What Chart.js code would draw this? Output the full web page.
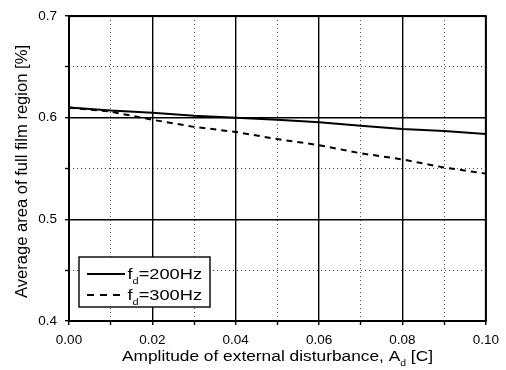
<!DOCTYPE html>
<html>
<head>
<meta charset="utf-8">
<script src="https://cdn.jsdelivr.net/npm/chart.js@4.4.1/dist/chart.umd.min.js"></script>
<style>
  html, body { margin: 0; padding: 0; background: #fff; }
  #wrap { width: 506px; height: 370px; }
</style>
</head>
<body>
<div id="wrap"><canvas id="filmChart" width="506" height="370"></canvas></div>
<script>
// values
const amplitude = [0.00, 0.01, 0.02, 0.03, 0.04, 0.05, 0.06, 0.07, 0.08, 0.09, 0.10];
const area200Hz = [0.610, 0.607, 0.605, 0.602, 0.600, 0.598, 0.5955, 0.592, 0.589, 0.587, 0.584];
const area300Hz = [0.610, 0.606, 0.598, 0.591, 0.586, 0.579, 0.573, 0.565, 0.559, 0.551, 0.545];
const seriesLabels = ['200Hz', '300Hz'];
const xTickLabels = ['0.00', '0.02', '0.04', '0.06', '0.08', '0.10'];
const yTickLabels = ['0.4', '0.5', '0.6', '0.7'];

const FONT = "'Liberation Sans', Arial, Helvetica, sans-serif";

function labelFor(list, v) {
  const hit = list.find(l => Math.abs(parseFloat(l) - v) < 1e-6);
  return hit || '';
}
function isMajor(list, ctx) {
  if (!ctx || !ctx.tick) return true;
  return labelFor(list, ctx.tick.value) !== '';
}

// text with a subscript, stretched to the width seen in the figure
function drawRich(ctx, parts, size, targetWidth) {
  const subSize = size * 0.6;
  let w = 0;
  parts.forEach(p => {
    ctx.font = (p.sub ? subSize : size) + 'px ' + FONT;
    w += ctx.measureText(p.t).width;
  });
  const s = targetWidth / w;
  ctx.save();
  ctx.scale(s, 1);
  let x = 0;
  parts.forEach(p => {
    ctx.font = (p.sub ? subSize : size) + 'px ' + FONT;
    ctx.fillText(p.t, x, p.sub ? size * 0.3 : 0);
    x += ctx.measureText(p.t).width;
  });
  ctx.restore();
}

const extras = {
  id: 'extras',
  afterDraw(chart) {
    const ctx = chart.ctx;
    const a = chart.chartArea;
    ctx.save();
    ctx.fillStyle = '#000';
    ctx.textBaseline = 'alphabetic';
    ctx.textAlign = 'left';

    // frame
    ctx.strokeStyle = '#000';
    ctx.lineWidth = 2;
    ctx.strokeRect(a.left, a.top, a.right - a.left, a.bottom - a.top);

    // x title
    ctx.save();
    ctx.translate(122, 361);
    drawRich(ctx, [{t: 'Amplitude of external disturbance, A'}, {t: 'd', sub: true}, {t: ' [C]'}], 15.5, 311);
    ctx.restore();

    // y title
    ctx.save();
    ctx.translate(27, 298);
    ctx.rotate(-Math.PI / 2);
    drawRich(ctx, [{t: 'Average area of full film region [%]'}], 16, 253);
    ctx.restore();

    // legend
    const lx = 79, ly = 257, lw = 131, lh = 50;
    ctx.fillStyle = '#fff';
    ctx.fillRect(lx, ly, lw, lh);
    ctx.strokeStyle = '#000';
    ctx.lineWidth = 1.4;
    ctx.strokeRect(lx, ly, lw, lh);
    const rows = [274, 295];
    chart.data.datasets.forEach((ds, i) => {
      ctx.save();
      ctx.strokeStyle = ds.borderColor;
      ctx.lineWidth = ds.borderWidth;
      ctx.setLineDash(i === 0 ? [] : [7, 6]);
      ctx.beginPath();
      ctx.moveTo(87, rows[i]);
      ctx.lineTo(i === 0 ? 125 : 120, rows[i]);
      ctx.stroke();
      ctx.restore();
      ctx.save();
      ctx.fillStyle = '#000';
      ctx.translate(127.5, rows[i] + 5);
      drawRich(ctx, [{t: 'f'}, {t: 'd', sub: true}, {t: '=' + seriesLabels[i]}], 15.5, 74.5);
      ctx.restore();
    });
    ctx.restore();
  }
};

const ctxFilm = document.getElementById('filmChart').getContext('2d');

const filmChart = new Chart(ctxFilm, {
  type: 'line',
  data: {
    datasets: [{
      label: seriesLabels[0],
      data: amplitude.map((x, i) => ({x: x, y: area200Hz[i]})),
      borderColor: '#000',
      borderWidth: 2,
      pointRadius: 0,
      tension: 0
    }, {
      label: seriesLabels[1],
      data: amplitude.map((x, i) => ({x: x, y: area300Hz[i]})),
      borderColor: '#000',
      borderWidth: 2,
      borderDash: [6, 5],
      pointRadius: 0,
      tension: 0
    }]
  },
  options: {
    responsive: false,
    devicePixelRatio: 1,
    animation: false,
    layout: { padding: { left: 0, top: 14, right: 17, bottom: 0 } },
    plugins: {
      legend: { display: false },
      tooltip: { enabled: false }
    },
    scales: {
      x: {
        type: 'linear',
        min: 0,
        max: 0.1,
        afterFit: (scale) => { scale.height = 49; },
        ticks: {
          stepSize: 0.01,
          autoSkip: false,
          maxRotation: 0,
          padding: 7,
          color: '#000',
          font: { family: FONT, size: 13.5 },
          callback: (v) => labelFor(xTickLabels, v)
        },
        grid: {
          color: (c) => isMajor(xTickLabels, c) ? '#000' : '#444',
          lineWidth: (c) => isMajor(xTickLabels, c) ? 1.4 : 1,
          tickLength: 4,
          tickColor: '#000',
          tickWidth: 1.4
        },
        border: {
          display: false,
          dash: (c) => isMajor(xTickLabels, c) ? [] : [1, 3]
        }
      },
      y: {
        min: 0.4,
        max: 0.7,
        afterFit: (scale) => { scale.width = 69; },
        ticks: {
          stepSize: 0.05,
          autoSkip: false,
          padding: 8,
          color: '#000',
          font: { family: FONT, size: 13.5 },
          callback: (v) => labelFor(yTickLabels, v)
        },
        grid: {
          color: (c) => isMajor(yTickLabels, c) ? '#000' : '#444',
          lineWidth: (c) => isMajor(yTickLabels, c) ? 1.4 : 1,
          tickLength: 4,
          tickColor: '#000',
          tickWidth: 1.4
        },
        border: {
          display: false,
          dash: (c) => isMajor(yTickLabels, c) ? [] : [1, 3]
        }
      }
    }
  },
  plugins: [extras]
});
</script>
</body>
</html>
